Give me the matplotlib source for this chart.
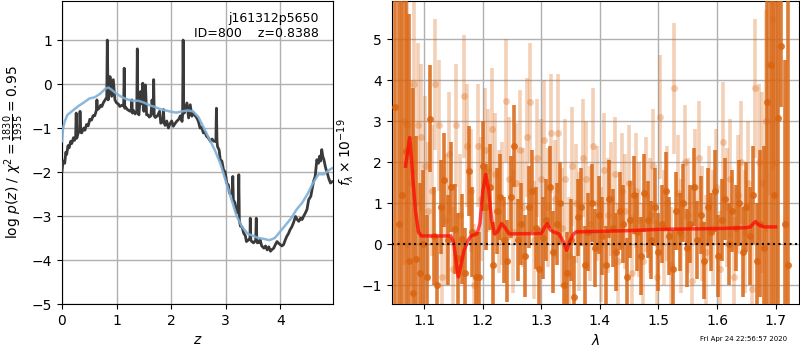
import numpy as np
import matplotlib
matplotlib.use('Agg')
import matplotlib.pyplot as plt

# ---- p(z) panel ----
z_pz = [0.0, 0.015, 0.03, 0.05, 0.07, 0.086, 0.11, 0.13, 0.16, 0.18, 0.21, 0.23, 0.25, 0.26, 0.27,
        0.30, 0.32, 0.33, 0.345, 0.36, 0.40, 0.42, 0.45, 0.48, 0.51, 0.54, 0.57, 0.60, 0.63, 0.64,
        0.65, 0.68, 0.71, 0.73, 0.76, 0.79, 0.82, 0.83, 0.845, 0.86, 0.88, 0.91, 0.94, 0.97, 1.0,
        1.03, 1.06, 1.10, 1.13, 1.14, 1.15, 1.16, 1.20, 1.25, 1.275, 1.28, 1.29, 1.31, 1.34, 1.37,
        1.38, 1.39, 1.41, 1.44, 1.47, 1.48, 1.49, 1.50, 1.53, 1.55, 1.575, 1.60, 1.63, 1.65,
        1.675, 1.68, 1.69, 1.71, 1.75, 1.79, 1.81, 1.85, 1.86, 1.87, 1.89, 1.92, 1.95, 1.98, 2.01,
        2.04, 2.07, 2.10, 2.14, 2.17, 2.20, 2.21, 2.22, 2.23, 2.24, 2.29, 2.32, 2.35, 2.38, 2.41,
        2.44, 2.47, 2.50, 2.53, 2.56, 2.59, 2.62, 2.65, 2.68, 2.72, 2.75, 2.78, 2.82, 2.83, 2.84,
        2.85, 2.88, 2.90, 2.93, 2.96, 2.99, 3.02, 3.05, 3.07, 3.12, 3.13, 3.14, 3.17, 3.20, 3.23,
        3.24, 3.25, 3.27, 3.30, 3.33, 3.36, 3.38, 3.42, 3.445, 3.45, 3.46, 3.48, 3.51, 3.55, 3.56,
        3.57, 3.58, 3.61, 3.63, 3.66, 3.70, 3.73, 3.76, 3.79, 3.82, 3.85, 3.88, 3.91, 3.94, 3.97,
        4.00, 4.03, 4.06, 4.09, 4.12, 4.15, 4.18, 4.21, 4.24, 4.28, 4.31, 4.34, 4.37, 4.40, 4.43,
        4.46, 4.49, 4.52, 4.56, 4.61, 4.64, 4.67, 4.70, 4.72, 4.74, 4.76, 4.78, 4.80, 4.83, 4.86,
        4.89, 4.92, 4.95, 4.98]
logp = [-1.98, -1.8, -1.75, -1.8, -1.55, -1.6, -1.4, -1.45, -1.3, -1.35, -1.22, -1.28, -1.2, -0.66, -1.23,
        -1.1, -1.05, -0.62, -1.1, -1.11, -1.0, -1.05, -0.92, -0.95, -0.8, -0.82, -0.72, -0.72, -0.6, -0.36,
        -0.58, -0.55, -0.48, -0.51, -0.42, -0.36, -0.3, 1.0, -0.36, -0.2, 0.17, -0.28, 0.1, -0.36, -0.43,
        -0.45, -0.51, -0.48, -0.5, 0.36, -0.55, -0.52, -0.58, -0.62, -0.55, -0.36, -0.66, -0.6, -0.68, -0.62,
        0.80, -0.65, -0.70, -0.17, -0.45, 0.02, -0.55, -0.62, -0.02, -0.70, -0.7, -0.75, -0.72, -0.36,
        -0.68, 0.10, -0.72, -0.76, -0.72, -0.62, -0.89, -0.85, -0.58, -0.88, -0.94, -0.84, -1.0, -0.9, -0.84,
        -0.96, -0.9, -0.85, -0.8, -0.72, -0.85, -0.7, 1.0, -0.5, -0.66, -0.43, -0.77, -0.47, -0.73, -0.66,
        -0.72, -0.77, -0.85, -1.0, -0.98, -1.11, -1.1, -1.19, -1.22, -1.30, -1.25, -1.30, -1.3, -0.55, -1.3,
        -1.42, -1.5, -1.72, -1.75, -1.95, -2.0, -2.25, -2.3, -2.48, -2.5, -2.10, -2.63, -2.7, -2.93, -2.9,
        -2.06, -3.1, -3.23, -3.25, -3.39, -3.45, -3.58, -3.54, -3.5, -3.05, -3.55, -3.58, -3.61, -3.55, -3.05,
        -3.55, -3.61, -3.6, -3.54, -3.68, -3.73, -3.68, -3.77, -3.7, -3.80, -3.76, -3.73, -3.65, -3.58, -3.62,
        -3.65, -3.68, -3.65, -3.55, -3.46, -3.4, -3.31, -3.25, -3.16, -3.01, -3.08, -3.12, -3.05, -3.08, -3.0,
        -2.93, -2.85, -2.63, -2.55, -2.21, -2.10, -1.72, -1.8, -1.64, -1.75, -1.49, -1.65, -1.72, -1.9, -2.02,
        -2.15, -2.25, -2.22, -2.21]
z_prior = [0.0, 0.02, 0.05, 0.1, 0.2, 0.3, 0.4, 0.5, 0.6, 0.7, 0.8, 0.85, 0.9, 1.0, 1.1, 1.2, 1.3, 1.4,
           1.5, 1.6, 1.7, 1.8, 1.9, 2.0, 2.1, 2.2, 2.3, 2.4, 2.5, 2.6, 2.7, 2.8, 2.9, 3.0, 3.1, 3.2,
           3.3, 3.4, 3.5, 3.6, 3.7, 3.8, 3.9, 4.0, 4.1, 4.2, 4.3, 4.4, 4.5, 4.6, 4.7, 4.8, 4.9, 4.97]
logp_prior = [-1.3, -1.0, -0.85, -0.7, -0.6, -0.5, -0.42, -0.33, -0.3, -0.22, -0.1, -0.08, -0.12, -0.22,
              -0.3, -0.35, -0.38, -0.38, -0.42, -0.48, -0.52, -0.57, -0.6, -0.63, -0.65, -0.62, -0.6,
              -0.62, -0.75, -1.0, -1.25, -1.5, -1.8, -2.2, -2.6, -3.0, -3.25, -3.4, -3.45, -3.5, -3.52,
              -3.55, -3.5, -3.35, -3.2, -3.05, -2.85, -2.7, -2.5, -2.25, -2.05, -2.05, -1.95, -1.9]

# ---- spectrum panel ----
wave_a = [1.050, 1.056, 1.062, 1.068, 1.074, 1.080, 1.086, 1.092, 1.098, 1.104, 1.110, 1.116, 1.122,
          1.128, 1.134, 1.140, 1.146, 1.152, 1.158, 1.164, 1.170, 1.176, 1.182, 1.188, 1.194, 1.200,
          1.206, 1.212, 1.218, 1.224, 1.230, 1.236, 1.242, 1.248, 1.254, 1.260, 1.266, 1.272, 1.278,
          1.284, 1.290, 1.296, 1.302, 1.308, 1.314, 1.320, 1.326, 1.332, 1.338, 1.344, 1.350, 1.356,
          1.362, 1.368, 1.374, 1.380, 1.386, 1.392, 1.398, 1.404, 1.410, 1.416, 1.422, 1.428, 1.434,
          1.440, 1.446, 1.452, 1.458, 1.464, 1.470, 1.476, 1.482, 1.488, 1.494, 1.500, 1.506, 1.512,
          1.518, 1.524, 1.530, 1.536, 1.542, 1.548, 1.554, 1.560, 1.566, 1.572, 1.578, 1.584, 1.590,
          1.596, 1.602, 1.608, 1.614, 1.620, 1.626, 1.632, 1.638, 1.644, 1.650, 1.656, 1.662, 1.668,
          1.674, 1.680, 1.686, 1.692, 1.698, 1.704, 1.710, 1.716, 1.722]
flux_a = [3.35, 0.5, 1.2, 2.27, -0.4, -1.2, -0.36, -0.7, 0.0, -0.8, 3.06, 0.2, -1.0,
          0.9, 1.56, 0.1, 1.4, 0.37, -0.35, 0.13, -0.7, 1.79, 0.3, -0.8, -0.8, 1.9,
          0.9, 1.4, -0.5, 0.8, 1.15, 0.1, -0.4, 1.15, 2.4, 0.1, 0.5, -0.3, 0.9,
          1.3, 0.4, -0.6, 0.15, 0.6, 1.4, -0.2, 0.5, 1.0, -1.0, -0.7, 0.1, -1.3,
          0.65, 0.9, -0.5, 0.3, 1.0, -0.1, 0.7, 0.2, -0.5, 1.1, 0.4, -0.2, 0.8,
          0.5, -0.8, 0.6, 1.2, 0.3, -0.3, 1.25, 0.6, 0.1, 0.9, -0.2, 0.5, 1.3,
          0.2, -0.6, 0.8, 0.3, 1.0, -0.1, 0.5, 1.4, 0.1, 0.7, -0.4, 0.9, 0.3,
          1.3, -0.3, 0.6, 1.1, 0.0, 0.8, 0.4, 1.0, -0.2, 0.9, 0.2, 1.2, -0.4,
          0.5, -0.1, 3.47, 4.36, 1.2, 3.08, 4.84, 0.5, -0.5]
err_a = [8, 9, 9, 6, 6, 5, 3.0, 2.2, 1.8, 1.5, 1.3, 1.2, 1.2,
         1.15, 1.15, 1.1, 1.1, 1.1, 1.1, 1.1, 1.1, 1.1, 1.1, 1.1, 1.1, 1.1,
         1.05, 1.05, 1.05, 1.05, 1.05, 1.05, 1.0, 1.0, 1.0, 1.0, 1.0, 1.0, 1.0,
         1.0, 1.0, 1.0, 1.0, 1.0, 1.0, 1.0, 1.0, 1.0, 1.0, 1.0, 1.0, 1.0,
         0.95, 0.95, 0.95, 0.95, 0.95, 0.95, 0.95, 0.95, 0.95, 0.95, 0.95, 0.95, 0.95,
         0.95, 0.95, 0.95, 0.95, 0.95, 0.95, 0.95, 0.95, 0.95, 0.95, 0.95, 0.95, 0.95,
         0.95, 0.95, 0.95, 0.95, 0.95, 0.95, 0.95, 0.95, 0.95, 0.95, 0.95, 0.95, 0.95,
         1.0, 1.0, 1.0, 1.0, 1.0, 1.0, 1.05, 1.05, 1.1, 1.1, 1.2, 1.2, 1.4,
         1.8, 2.5, 5.0, 6.0, 7.0, 7.0, 1.5, 4.0, 8.0]

wave_b = [1.065, 1.071, 1.077, 1.083, 1.089, 1.095, 1.101, 1.107, 1.113, 1.119, 1.125, 1.131, 1.137,
          1.143, 1.149, 1.155, 1.161, 1.167, 1.173, 1.179, 1.185, 1.191, 1.197, 1.203, 1.209, 1.215,
          1.221, 1.227, 1.233, 1.239, 1.245, 1.251, 1.257, 1.263, 1.269, 1.275, 1.281, 1.287, 1.293,
          1.299, 1.305, 1.311, 1.317, 1.323, 1.329, 1.335, 1.341, 1.347, 1.353, 1.359, 1.365, 1.371,
          1.377, 1.383, 1.389, 1.395, 1.401, 1.407, 1.413, 1.419, 1.425, 1.431, 1.437, 1.443, 1.449,
          1.455, 1.461, 1.467, 1.473, 1.479, 1.485, 1.491, 1.497, 1.503, 1.509, 1.515, 1.521, 1.527,
          1.533, 1.539, 1.545, 1.551, 1.557, 1.563, 1.569, 1.575, 1.581, 1.587, 1.593, 1.599, 1.605,
          1.611, 1.617, 1.623, 1.629, 1.635, 1.641, 1.647, 1.653, 1.659, 1.665, 1.671, 1.677, 1.683,
          1.689, 1.695, 1.701]
flux_b = [3.0, 2.9, 1.5, 3.9, 2.9, 2.6, 1.9, 0.8, 1.3, 3.9, 2.9, -0.8, 0.6,
          2.2, -0.6, 2.9, 0.7, 3.6, 2.4, 1.3, -1.0, 2.4, 1.1, 2.3, 1.8, 2.8,
          1.7, 0.8, 1.0, 3.5, 1.6, 0.3, 1.5, 2.3, 0.9, 2.6, 3.46, 0.1, 2.1,
          1.6, 2.55, 0.9, 2.7, 1.1, 2.7, 0.4, 1.6, -0.3, 1.9, 1.0, 0.3, 2.1,
          1.6, 0.5, 2.4, 1.0, 0.0, 1.8, 0.7, 1.1, 1.7, -0.4, 1.3, 0.8, 1.5,
          -0.7, 1.3, 0.6, -0.4, 1.2, 0.7, 1.9, -0.8, 3.1, 0.4, 1.0, -0.5, 3.8,
          1.25, 0.2, 2.0, 0.7, -0.9, 1.4, 2.1, 0.5, -0.2, 1.0, 0.4, 1.4, -0.6,
          2.5, 0.9, 1.6, -0.8, 1.2, 2.0, 0.3, 1.5, -1.1, 3.8, 2.0, 1.5, 3.0,
          4.4, 5.5, 2.0]
err_b = [3.5, 3.0, 2.5, 2.2, 2.0, 1.8, 1.7, 1.7, 1.6, 1.6, 1.6, 1.6, 1.6,
         1.5, 1.5, 1.5, 1.5, 1.5, 1.5, 1.5, 1.5, 1.5, 1.5, 1.5, 1.5, 1.5,
         1.5, 1.5, 1.5, 1.5, 1.5, 1.5, 1.45, 1.45, 1.45, 1.45, 1.45, 1.45, 1.45,
         1.45, 1.45, 1.45, 1.45, 1.45, 1.45, 1.45, 1.45, 1.45, 1.45, 1.45, 1.45, 1.45,
         1.4, 1.4, 1.4, 1.4, 1.4, 1.4, 1.4, 1.4, 1.4, 1.4, 1.4, 1.4, 1.4,
         1.4, 1.4, 1.4, 1.4, 1.4, 1.4, 1.4, 1.4, 1.5, 1.4, 1.4, 1.4, 1.6,
         1.4, 1.4, 1.4, 1.4, 1.4, 1.4, 1.4, 1.4, 1.4, 1.4, 1.4, 1.4, 1.4,
         1.45, 1.45, 1.45, 1.45, 1.45, 1.5, 1.5, 1.5, 1.6, 1.7, 1.9, 2.2, 2.7,
         3.2, 3.7, 4.2]

wave_model = [1.068, 1.072, 1.075, 1.078, 1.081, 1.085, 1.090, 1.095, 1.120, 1.145, 1.150, 1.155,
              1.158, 1.162, 1.168, 1.175, 1.180, 1.190, 1.195, 1.200, 1.205, 1.210, 1.215, 1.220,
              1.225, 1.232, 1.238, 1.245, 1.250, 1.300, 1.305, 1.310, 1.315, 1.320, 1.330, 1.338,
              1.343, 1.348, 1.355, 1.360, 1.400, 1.450, 1.500, 1.550, 1.600, 1.650, 1.657, 1.662,
              1.666, 1.670, 1.680, 1.700]
flux_model = [1.9, 2.3, 2.6, 2.1, 1.5, 0.8, 0.3, 0.2, 0.2, 0.2, 0.05, -0.5,
              -0.8, -0.55, -0.15, 0.1, 0.2, 0.25, 0.5, 1.3, 1.7, 1.3, 0.6, 0.25,
              0.3, 0.5, 0.4, 0.25, 0.25, 0.26, 0.4, 0.5, 0.35, 0.3, 0.25, 0.05,
              -0.15, 0.05, 0.25, 0.3, 0.31, 0.33, 0.36, 0.37, 0.38, 0.4, 0.42, 0.5,
              0.55, 0.48, 0.42, 0.42]

orange = '#d96410'

fig = plt.figure(figsize=(8, 3.5), dpi=100)
ax1 = fig.add_axes([0.0775, 0.1314, 0.339, 0.866])
ax2 = fig.add_axes([0.4896, 0.1314, 0.509, 0.866])

ax1.plot(z_pz, logp, color='#3a3a3a', lw=2, zorder=3)
ax1.plot(z_prior, logp_prior, color='#7fb0d8', lw=1.8, alpha=0.9, zorder=4)
ax1.set_xlim(0, 4.97)
ax1.set_ylim(-5, 1.89)
ax1.set_xticks([0, 1, 2, 3, 4])
ax1.set_yticks([-5, -4, -3, -2, -1, 0, 1])
ax1.grid(color='#b0b0b0', lw=1)
ax1.set_axisbelow(True)
ax1.set_xlabel('$z$', fontsize=10)
ax1.set_ylabel(r'$\log\,p(z)$ / $\chi^2=\frac{1830}{1935}=0.95$', fontsize=10)
ax1.text(0.947, 0.965, 'j161312p5650\nID=800    z=0.8388', transform=ax1.transAxes,
         ha='right', va='top', fontsize=9)

ax2.errorbar(wave_b, flux_b, yerr=err_b, fmt='o', color=orange, alpha=0.3,
             ms=5, elinewidth=2.6, mew=0, zorder=2)
ax2.errorbar(wave_a, flux_a, yerr=err_a, fmt='o', color=orange, alpha=0.85,
             ms=5, elinewidth=2.6, mew=0, zorder=3)
ax2.plot(wave_model, flux_model, color='red', lw=2.5, alpha=0.7, zorder=5)
ax2.axhline(0, color='k', ls=':', lw=1.5, zorder=6)
ax2.set_xlim(1.0443, 1.7398)
ax2.set_ylim(-1.46, 5.93)
ax2.set_xticks([1.1, 1.2, 1.3, 1.4, 1.5, 1.6, 1.7])
ax2.set_yticks([-1, 0, 1, 2, 3, 4, 5])
ax2.grid(color='#b0b0b0', lw=1)
ax2.set_axisbelow(True)
ax2.set_xlabel(r'$\lambda$', fontsize=10)
ax2.set_ylabel(r'$f_\lambda\times10^{-19}$', fontsize=10)

fig.text(0.984, 0.031, 'Fri Apr 24 22:56:57 2020', ha='right', va='center', fontsize=5)

fig.savefig('out.png', dpi=100)
